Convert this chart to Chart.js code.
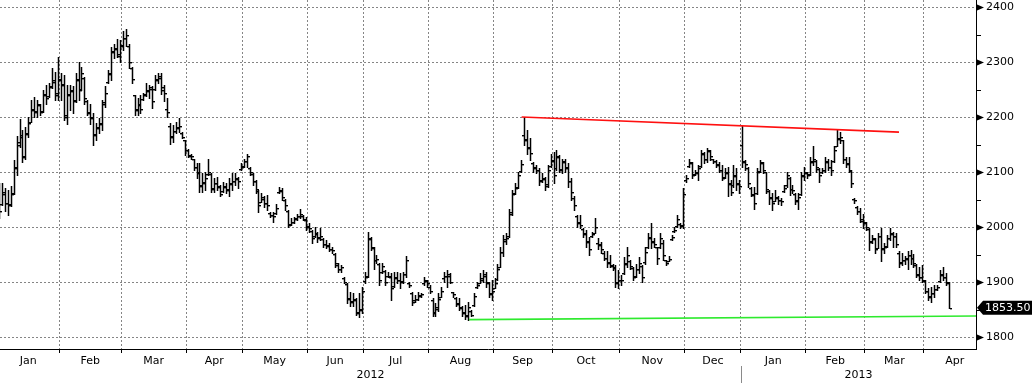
<!DOCTYPE html>
<html>
<head>
<meta charset="utf-8">
<title>LME Aluminium 3M</title>
<script src="https://cdn.jsdelivr.net/npm/chart.js@4.4.1/dist/chart.umd.min.js"></script>
<style>
  html, body { margin: 0; padding: 0; background: #fff; }
  canvas { display: block; }
</style>
</head>
<body>
<canvas id="priceChart" width="1032" height="383"></canvas>
<script>
// month labels along the bottom and the index of each month's first trading day
// (last entry = where April 2013 would end, used only to centre its label)
const months = ['Jan', 'Feb', 'Mar', 'Apr', 'May', 'Jun', 'Jul', 'Aug', 'Sep', 'Oct', 'Nov', 'Dec',
  'Jan', 'Feb', 'Mar', 'Apr'];
const monthStarts = [0, 21, 42, 64, 83, 105, 124, 146, 168, 188, 211, 233, 252, 274, 294, 314, 335];
const years = ['2012', '2013'];
const yearFirstMonth = [0, 12];

const priceTicks = [1800, 1850, 1900, 1950, 2000, 2050, 2100, 2150, 2200, 2250, 2300, 2350, 2400];

// daily OHLC, one row per month
const opens = [
  2060, 2042, 2060, 2045, 2042, 2062, 2108, 2155, 2168, 2128, 2172, 2192, 2214, 2210, 2222, 2212, 2242, 2238, 2256, 2268, 2240,
  2268, 2258, 2200, 2242, 2248, 2232, 2268, 2252, 2272, 2230, 2208, 2198, 2168, 2182, 2188, 2228, 2265, 2278, 2318, 2326, 2312,
  2332, 2344, 2330, 2290, 2240, 2214, 2222, 2234, 2242, 2248, 2252, 2252, 2268, 2272, 2250, 2215, 2185, 2166, 2175, 2182, 2172, 2158,
  2140, 2130, 2124, 2110, 2098, 2076, 2082, 2096, 2096, 2072, 2080, 2074, 2066, 2074, 2068, 2078, 2084, 2088, 2106,
  2112, 2120, 2108, 2096, 2084, 2066, 2046, 2052, 2044, 2026, 2022, 2026, 2064, 2066, 2050, 2030, 2006, 2010, 2016, 2020, 2020, 2014,
  2002, 1994, 1984, 1988, 1982, 1978, 1970, 1966, 1960, 1952, 1932, 1924, 1908, 1896, 1872, 1866, 1868, 1846, 1852,
  1902, 1912, 1978, 1962, 1940, 1934, 1918, 1920, 1912, 1910, 1894, 1908, 1904, 1902, 1915, 1898, 1880, 1868, 1870, 1876, 1898, 1902,
  1892, 1868, 1846, 1852, 1874, 1908, 1912, 1912, 1882, 1872, 1862, 1854, 1846, 1838, 1848, 1858, 1892, 1898, 1908, 1912, 1898, 1878,
  1890, 1906, 1928, 1955, 1978, 1985, 2028, 2062, 2074, 2102, 2168, 2160, 2146, 2116, 2108, 2104, 2086, 2088, 2078, 2112,
  2122, 2108, 2128, 2106, 2118, 2108, 2084, 2054, 2020, 2008, 1996, 1988, 1974, 1984, 1990, 1972, 1968, 1954, 1944, 1936, 1930, 1926, 1898,
  1904, 1916, 1934, 1938, 1926, 1912, 1924, 1930, 1936, 1964, 1982, 1974, 1964, 1964, 1972, 1940, 1938, 1978, 1994, 2002, 2006, 2004,
  2086, 2112, 2116, 2096, 2098, 2112, 2134, 2124, 2138, 2124, 2120, 2114, 2104, 2092, 2098, 2078, 2076, 2094, 2078,
  2150, 2118, 2108, 2072, 2058, 2062, 2102, 2116, 2100, 2066, 2054, 2048, 2054, 2050, 2066, 2076, 2090, 2070, 2060, 2048, 2060, 2094,
  2098, 2096, 2118, 2120, 2106, 2100, 2104, 2118, 2110, 2120, 2148, 2162, 2158, 2124, 2116, 2102, 2052, 2036, 2030, 2012,
  2008, 1996, 1974, 1978, 1962, 1984, 1962, 1966, 1980, 1988, 1984, 1954, 1936, 1940, 1944, 1950, 1944, 1932, 1914, 1910,
  1902, 1884, 1874, 1880, 1888, 1902, 1914, 1910, 1898
];
const highs = [
  2080, 2080, 2071, 2068, 2075, 2122, 2166, 2197, 2177, 2182, 2201, 2231, 2237, 2231, 2225, 2250, 2259, 2262, 2289, 2283, 2310,
  2280, 2277, 2259, 2259, 2256, 2280, 2301, 2292, 2274, 2231, 2225, 2207, 2189, 2198, 2231, 2256, 2286, 2328, 2334, 2343, 2340,
  2356, 2360, 2334, 2292, 2241, 2235, 2241, 2244, 2262, 2259, 2256, 2277, 2280, 2280, 2258, 2235, 2189, 2186, 2192, 2198, 2174, 2159,
  2143, 2134, 2125, 2116, 2116, 2098, 2101, 2125, 2098, 2089, 2092, 2077, 2083, 2080, 2089, 2098, 2098, 2092, 2116,
  2125, 2134, 2110, 2098, 2086, 2068, 2062, 2056, 2059, 2028, 2028, 2043, 2074, 2071, 2052, 2031, 2016, 2019, 2025, 2034, 2022, 2019,
  2007, 1995, 2001, 1992, 1998, 1980, 1977, 1971, 1965, 1953, 1935, 1932, 1910, 1898, 1883, 1880, 1871, 1880, 1892,
  1919, 1992, 1983, 1965, 1950, 1935, 1935, 1922, 1919, 1916, 1919, 1919, 1916, 1919, 1947, 1901, 1883, 1877, 1883, 1880, 1910, 1904,
  1895, 1871, 1862, 1880, 1892, 1918, 1922, 1916, 1883, 1874, 1871, 1856, 1859, 1865, 1850, 1880, 1901, 1916, 1922, 1919, 1901, 1904,
  1907, 1934, 1965, 1986, 1989, 2034, 2068, 2080, 2101, 2122, 2201, 2177, 2162, 2119, 2113, 2107, 2098, 2092, 2113, 2134,
  2137, 2140, 2132, 2125, 2125, 2116, 2089, 2056, 2022, 2022, 1998, 1995, 1983, 1992, 2016, 1980, 1974, 1956, 1956, 1950, 1934, 1931, 1922,
  1913, 1946, 1965, 1940, 1928, 1934, 1946, 1931, 1965, 1989, 2007, 1980, 1965, 1989, 1977, 1941, 1947, 1986, 2001, 2022, 2007, 2071,
  2095, 2125, 2119, 2104, 2113, 2141, 2137, 2144, 2141, 2125, 2122, 2119, 2113, 2107, 2110, 2086, 2113, 2107, 2086,
  2184, 2122, 2110, 2074, 2074, 2107, 2122, 2119, 2101, 2068, 2062, 2068, 2056, 2053, 2077, 2101, 2092, 2077, 2062, 2062, 2101, 2110,
  2101, 2128, 2147, 2122, 2107, 2107, 2128, 2125, 2122, 2147, 2177, 2174, 2159, 2128, 2128, 2104, 2053, 2039, 2035, 2025,
  2010, 1998, 1986, 1980, 1989, 1998, 1971, 1986, 1998, 1992, 1989, 1956, 1953, 1947, 1956, 1958, 1952, 1934, 1928, 1931,
  1904, 1889, 1892, 1895, 1895, 1922, 1928, 1916, 1901
];
const lows = [
  2016, 2040, 2030, 2022, 2038, 2060, 2095, 2146, 2119, 2125, 2164, 2191, 2200, 2201, 2204, 2210, 2225, 2237, 2253, 2231, 2231,
  2231, 2195, 2188, 2213, 2207, 2228, 2231, 2250, 2225, 2204, 2188, 2150, 2158, 2171, 2177, 2219, 2262, 2268, 2307, 2310, 2301,
  2322, 2329, 2289, 2262, 2204, 2204, 2207, 2232, 2238, 2235, 2217, 2250, 2262, 2243, 2230, 2200, 2152, 2155, 2171, 2174, 2162, 2131,
  2128, 2125, 2104, 2089, 2065, 2065, 2068, 2095, 2065, 2065, 2068, 2056, 2065, 2062, 2056, 2068, 2077, 2071, 2104,
  2110, 2110, 2095, 2077, 2062, 2028, 2046, 2037, 2031, 2019, 2010, 2025, 2062, 2049, 2031, 2001, 2004, 2007, 2013, 2016, 2013, 1995,
  1992, 1971, 1983, 1974, 1977, 1965, 1962, 1956, 1953, 1928, 1919, 1919, 1898, 1862, 1856, 1856, 1841, 1837, 1844,
  1898, 1910, 1959, 1925, 1935, 1895, 1916, 1895, 1910, 1868, 1892, 1898, 1889, 1898, 1910, 1892, 1859, 1865, 1868, 1874, 1895, 1892,
  1880, 1838, 1838, 1847, 1874, 1900, 1892, 1898, 1874, 1856, 1850, 1838, 1833, 1832, 1838, 1856, 1889, 1898, 1901, 1892, 1874, 1868,
  1889, 1905, 1928, 1947, 1970, 1983, 2022, 2060, 2071, 2101, 2150, 2134, 2122, 2101, 2098, 2077, 2083, 2068, 2074, 2110,
  2080, 2104, 2101, 2098, 2101, 2074, 2050, 2032, 2001, 1998, 1983, 1965, 1950, 1983, 1989, 1960, 1953, 1940, 1928, 1928, 1922, 1892, 1889,
  1895, 1915, 1928, 1925, 1904, 1910, 1916, 1901, 1934, 1962, 1962, 1965, 1934, 1962, 1941, 1931, 1938, 1977, 1992, 2001, 1998, 1998,
  2083, 2110, 2089, 2095, 2086, 2110, 2116, 2119, 2122, 2116, 2110, 2101, 2086, 2089, 2056, 2059, 2074, 2068, 2062,
  2110, 2105, 2074, 2056, 2034, 2060, 2100, 2098, 2062, 2043, 2031, 2048, 2043, 2041, 2065, 2074, 2059, 2062, 2043, 2034, 2059, 2086,
  2089, 2095, 2113, 2101, 2083, 2098, 2101, 2104, 2095, 2119, 2147, 2153, 2116, 2110, 2101, 2074, 2045, 2025, 2010, 1998,
  1995, 1959, 1972, 1953, 1962, 1938, 1953, 1965, 1977, 1965, 1965, 1928, 1931, 1934, 1925, 1934, 1928, 1910, 1904, 1901,
  1880, 1868, 1865, 1874, 1886, 1901, 1904, 1895, 1853
];
const closes = [
  2030, 2065, 2045, 2040, 2060, 2110, 2150, 2165, 2130, 2170, 2190, 2215, 2212, 2225, 2210, 2240, 2235, 2255, 2265, 2245, 2270,
  2260, 2205, 2240, 2250, 2230, 2270, 2250, 2280, 2235, 2210, 2200, 2170, 2180, 2190, 2225, 2245, 2280, 2320, 2325, 2315, 2330,
  2345, 2350, 2300, 2270, 2215, 2225, 2215, 2240, 2250, 2255, 2230, 2270, 2275, 2255, 2245, 2210, 2165, 2175, 2180, 2185, 2165, 2140,
  2132, 2130, 2110, 2100, 2075, 2080, 2090, 2100, 2070, 2080, 2075, 2060, 2075, 2070, 2080, 2085, 2090, 2085, 2110,
  2120, 2130, 2100, 2085, 2070, 2040, 2055, 2045, 2040, 2022, 2020, 2035, 2068, 2055, 2040, 2005, 2010, 2015, 2020, 2025, 2015, 2000,
  1998, 1980, 1990, 1980, 1985, 1970, 1968, 1960, 1958, 1935, 1925, 1928, 1900, 1870, 1865, 1870, 1845, 1850, 1885,
  1910, 1980, 1965, 1940, 1942, 1905, 1930, 1900, 1912, 1890, 1910, 1905, 1900, 1915, 1940, 1895, 1865, 1870, 1875, 1878, 1905, 1898,
  1885, 1845, 1855, 1870, 1885, 1912, 1915, 1900, 1878, 1860, 1855, 1845, 1840, 1855, 1840, 1875, 1895, 1905, 1915, 1900, 1880, 1885,
  1898, 1925, 1955, 1975, 1980, 2025, 2060, 2072, 2095, 2115, 2158, 2145, 2135, 2110, 2105, 2085, 2090, 2075, 2105, 2120,
  2095, 2130, 2105, 2120, 2110, 2085, 2065, 2040, 2010, 2005, 1990, 1975, 1960, 1988, 2000, 1970, 1960, 1945, 1935, 1932, 1928, 1900, 1905,
  1905, 1935, 1950, 1930, 1910, 1925, 1935, 1910, 1955, 1980, 1975, 1970, 1945, 1980, 1950, 1935, 1942, 1982, 1995, 2015, 2002, 2060,
  2090, 2118, 2095, 2100, 2108, 2135, 2125, 2140, 2130, 2120, 2115, 2105, 2090, 2100, 2080, 2065, 2095, 2080, 2075,
  2120, 2115, 2080, 2060, 2045, 2100, 2118, 2105, 2070, 2055, 2045, 2055, 2050, 2048, 2072, 2095, 2070, 2068, 2050, 2055, 2095, 2100,
  2095, 2120, 2125, 2110, 2095, 2104, 2120, 2110, 2105, 2140, 2160, 2165, 2125, 2115, 2105, 2080, 2050, 2030, 2015, 2010,
  2000, 1975, 1980, 1960, 1985, 1960, 1965, 1980, 1990, 1985, 1970, 1935, 1940, 1942, 1950, 1945, 1935, 1915, 1910, 1905,
  1885, 1875, 1880, 1888, 1892, 1915, 1910, 1900, 1853.5
];

// hand-drawn trend lines (x = trading-day index, y = price)
const resistance = [{ x: 177.2, y: 2200.5 }, { x: 305.1, y: 2173 }];
const support = [{ x: 159.4, y: 1832 }, { x: 331.2, y: 1838.7 }];

const X_MIN = 0.39, X_MAX = 331.2;
const Y_MIN = 1778.7, Y_MAX = 2413.2;

// sanity check of the typed data, reported after drawing
const problems = [];
if (new Set([opens.length, highs.length, lows.length, closes.length]).size !== 1) {
  problems.push('lengths ' + [opens.length, highs.length, lows.length, closes.length].join(','));
}
closes.forEach((c, i) => {
  if (c > highs[i] || c < lows[i] || opens[i] > highs[i] || opens[i] < lows[i]) problems.push('bar ' + i);
});

const FONT = '11px "DejaVu Sans"';

// vertical high-low line with open tick left and close tick right
const ohlcBars = {
  id: 'ohlcBars',
  beforeDatasetsDraw(chart) {
    const { ctx, chartArea: a, scales: { x, y } } = chart;
    ctx.save();
    ctx.beginPath();
    ctx.rect(a.left, a.top, a.width, a.height);
    ctx.clip();
    ctx.fillStyle = '#000';
    for (let i = 0; i < closes.length; i++) {
      const px = Math.round(x.getPixelForValue(i));
      const yh = Math.round(y.getPixelForValue(highs[i]));
      const yl = Math.round(y.getPixelForValue(lows[i]));
      const yo = Math.round(y.getPixelForValue(opens[i]));
      const yc = Math.round(y.getPixelForValue(closes[i]));
      ctx.fillRect(px - 0.25, yh, 1.5, Math.max(1, yl - yh + 1));
      ctx.fillRect(px - 2, yo, 2, 1.4);
      ctx.fillRect(px + 1, yc, 2, 1.4);
    }
    ctx.restore();
  }
};

// month / year labels, price axis markers and last-price tag
const axisDecor = {
  id: 'axisDecor',
  afterDraw(chart) {
    const { ctx, chartArea: a, scales: { x, y } } = chart;
    ctx.save();
    ctx.font = FONT;
    ctx.fillStyle = '#000';
    ctx.textAlign = 'center';
    ctx.textBaseline = 'middle';

    for (let k = 0; k < months.length; k++) {
      const mid = (monthStarts[k] + monthStarts[k + 1]) / 2 - 0.5;
      ctx.fillText(months[k], x.getPixelForValue(mid), a.bottom + 12);
    }

    years.forEach((yr, k) => {
      const from = Math.max(monthStarts[yearFirstMonth[k]] - 0.5, x.min);
      const nextFirst = k + 1 < years.length ? monthStarts[yearFirstMonth[k + 1]] : monthStarts[monthStarts.length - 1];
      const to = Math.min(nextFirst - 0.5, x.max);
      ctx.fillText(yr, x.getPixelForValue((from + to) / 2), a.bottom + 26);
      if (k > 0) {
        const sx = Math.round(x.getPixelForValue(from)) + 0.5;
        ctx.strokeStyle = '#8a8a8a';
        ctx.lineWidth = 1;
        ctx.beginPath();
        ctx.moveTo(sx, a.bottom + 17);
        ctx.lineTo(sx, chart.height);
        ctx.stroke();
      }
    });

    // arrow at each labelled price, short tick halfway between
    priceTicks.forEach(v => {
      const yp = Math.round(y.getPixelForValue(v));
      if (v % 100 === 0) {
        ctx.beginPath();
        ctx.moveTo(a.right + 1, yp - 2.5);
        ctx.lineTo(a.right + 8, yp + 0.5);
        ctx.lineTo(a.right + 1, yp + 3.5);
        ctx.closePath();
        ctx.fill();
      } else {
        ctx.fillRect(a.right + 1, yp, 4, 1);
      }
    });

    const last = closes[closes.length - 1];
    const yl = y.getPixelForValue(last);
    ctx.fillStyle = '#000';
    ctx.beginPath();
    ctx.moveTo(a.right + 1, yl);
    ctx.lineTo(a.right + 7, yl - 7);
    ctx.lineTo(chart.width, yl - 7);
    ctx.lineTo(chart.width, yl + 7);
    ctx.lineTo(a.right + 7, yl + 7);
    ctx.closePath();
    ctx.fill();
    ctx.fillStyle = '#fff';
    ctx.textAlign = 'left';
    ctx.fillText(last.toFixed(2), a.right + 9, yl + 0.5);
    ctx.restore();
  }
};

const ctx = document.getElementById('priceChart');
new Chart(ctx, {
  type: 'line',
  data: {
    datasets: [
      { data: resistance, borderColor: '#ff1010', borderWidth: 1.7, pointRadius: 0, tension: 0 },
      { data: support, borderColor: '#2eea2e', borderWidth: 1.7, pointRadius: 0, tension: 0 }
    ]
  },
  options: {
    responsive: false,
    animation: false,
    layout: { padding: 0 },
    plugins: { legend: { display: false }, tooltip: { enabled: false } },
    scales: {
      x: {
        type: 'linear',
        min: X_MIN,
        max: X_MAX,
        afterBuildTicks: scale => {
          scale.ticks = monthStarts.slice(1, -1).map(s => ({ value: s - 0.5 }));
        },
        afterFit: scale => {
          scale.height = 34;
          scale.paddingLeft = 0;
          scale.paddingRight = 0;
        },
        ticks: { display: false },
        grid: { color: '#858585', lineWidth: 1, drawTicks: true, tickLength: 4, tickColor: '#000' },
        border: { display: true, color: '#000', width: 1, dash: [2, 2] }
      },
      y: {
        type: 'linear',
        position: 'right',
        min: Y_MIN,
        max: Y_MAX,
        afterBuildTicks: scale => {
          scale.ticks = priceTicks.map(v => ({ value: v }));
        },
        afterFit: scale => {
          scale.width = 56;
          scale.paddingTop = 0;
          scale.paddingBottom = 0;
        },
        ticks: {
          autoSkip: false,
          padding: 10,
          color: '#000',
          font: { family: 'DejaVu Sans', size: 11 },
          callback: v => (v % 100 === 0 ? String(v) : '')
        },
        grid: {
          drawTicks: false,
          lineWidth: 1,
          color: c => (c.tick && c.tick.value % 100 === 0 ? '#858585' : 'rgba(0,0,0,0)')
        },
        border: { display: true, color: '#000', width: 1, dash: [2, 2] }
      }
    }
  },
  plugins: [ohlcBars, axisDecor]
});

if (problems.length) throw new Error('data check: ' + problems.join('; '));
</script>
</body>
</html>
